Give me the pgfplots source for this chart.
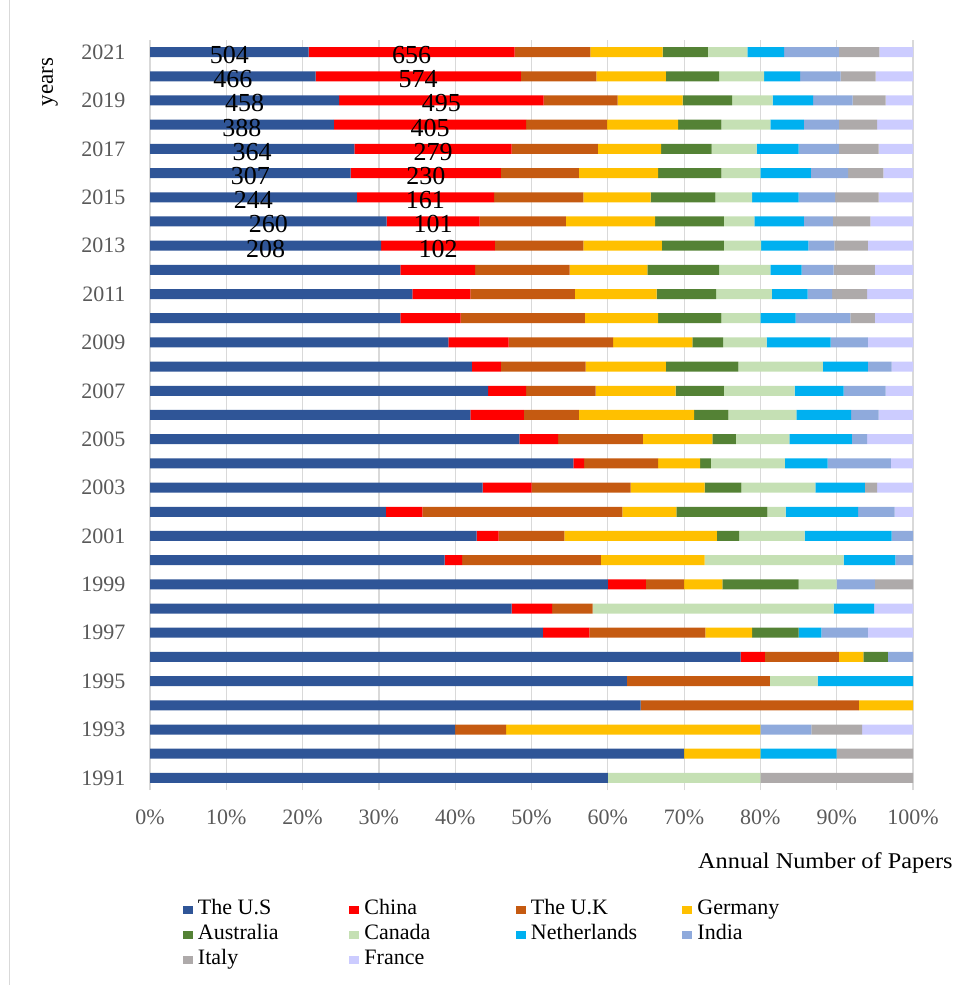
\documentclass[border=0pt]{standalone}
\usepackage{fontspec}
\setmainfont{Liberation Serif}
\newfontfamily\widefont[FakeStretch=1.08]{Liberation Serif}
\usepackage{pgfplots}
\usepackage{pgfplotstable}
\pgfplotsset{compat=1.18}
\definecolor{cUS}{HTML}{2F5597}
\definecolor{cCN}{HTML}{FF0000}
\definecolor{cUK}{HTML}{C55A11}
\definecolor{cDE}{HTML}{FFC000}
\definecolor{cAU}{HTML}{548235}
\definecolor{cCA}{HTML}{C5E0B4}
\definecolor{cNL}{HTML}{00B0F0}
\definecolor{cIN}{HTML}{8FAADC}
\definecolor{cIT}{HTML}{AEAAAA}
\definecolor{cFR}{HTML}{CCCCFF}
\definecolor{gridc}{HTML}{D9D9D9}
\definecolor{tickc}{HTML}{595959}

\pgfplotstableread{
year US CN UK DE AU CA NL IN IT FR
1991 60 0 0 0 0 20 0 0 20 0
1992 70 0 0 10 0 0 10 0 10 0
1993 40 0 6.67 33.33 0 0 0 6.67 6.67 6.66
1994 64.3 0 28.6 7.1 0 0 0 0 0 0
1995 62.5 0 18.75 0 0 6.25 12.5 0 0 0
1996 77.4 3.2 9.7 3.2 3.2 0 0 3.3 0 0
1997 51.5 6.1 15.2 6.1 6.1 0 3.0 6.1 0 5.9
1998 47.4 5.3 5.3 0 0 31.6 5.3 0 0 5.1
1999 60 5 5 5 10 5 0 5 5 0
2000 38.6 2.3 18.2 13.6 0 18.2 6.8 2.3 0 0
2001 42.8 2.9 8.6 20.0 2.9 8.6 11.4 2.8 0 0
2002 30.9 4.8 26.2 7.1 11.9 2.4 9.5 4.8 0 2.4
2003 43.6 6.4 13.0 9.7 4.8 9.7 6.5 0 1.6 4.7
2004 55.5 1.4 9.7 5.5 1.4 9.7 5.6 8.3 0 2.9
2005 48.4 5.1 11.1 9.1 3.1 7.0 8.2 2.0 0 6.0
2006 42.0 7.0 7.2 15.1 4.5 8.9 7.2 3.6 0 4.5
2007 44.3 5.0 9.1 10.5 6.3 9.3 6.4 5.5 0 3.6
2008 42.2 3.8 11.1 10.5 9.5 11.1 5.9 3.1 0 2.8
2009 39.1 7.9 13.7 10.4 4.0 5.7 8.4 4.9 0 5.9
2010 32.8 7.9 16.3 9.6 8.3 5.1 4.6 7.2 3.2 5.0
2011 34.4 7.6 13.7 10.7 7.8 7.3 4.7 3.2 4.6 6.0
2012 32.8 9.8 12.4 10.2 9.4 6.7 4.1 4.2 5.4 5.0
2013 30.3 14.9 11.6 10.3 8.1 4.9 6.2 3.4 4.4 5.9
2014 31.0 12.2 11.3 11.7 9.0 4.0 6.5 3.8 4.9 5.6
2015 27.1 18.0 11.7 8.8 8.5 4.8 6.1 4.8 5.7 4.5
2016 26.3 19.7 10.2 10.4 8.3 5.1 6.6 4.9 4.6 3.9
2017 26.8 20.6 11.3 8.3 6.6 5.9 5.5 5.3 5.2 4.5
2018 24.1 25.2 10.6 9.3 5.7 6.4 4.4 4.6 5.0 4.7
2019 24.8 26.8 9.7 8.5 6.5 5.3 5.3 5.2 4.3 3.6
2020 21.7 26.9 9.9 9.1 7.0 5.9 4.7 5.3 4.6 4.9
2021 20.8 27.0 9.9 9.5 5.9 5.2 4.8 7.2 5.3 4.4
}\datatable

\pgfplotstableread{
x y lab
10.4 2021 504
34.3 2021 656
10.85 2020 466
35.15 2020 574
12.4 2019 458
38.2 2019 495
12.05 2018 388
36.7 2018 405
13.4 2017 364
37.1 2017 279
13.15 2016 307
36.15 2016 230
13.55 2015 244
36.1 2015 161
15.5 2014 260
37.1 2014 101
15.15 2013 208
37.75 2013 102
}\labtable

\newcommand\legtxt[1]{\makebox[151.5pt][l]{#1}}

\begin{document}
\begin{tikzpicture}
\path[use as bounding box] (0,0) rectangle (958pt,985pt);
\draw[gridc, line width=1pt] (9.5pt,0pt) -- (9.5pt,985pt);
\begin{axis}[
  at={(150pt,195pt)}, anchor=south west,
  scale only axis, width=763pt, height=750pt,
  xbar stacked, bar width=10pt,
  xmin=0, xmax=100, ymin=1990.5, ymax=2021.5,
  xtick={0,10,20,30,40,50,60,70,80,90,100},
  xticklabels={0\%,10\%,20\%,30\%,40\%,50\%,60\%,70\%,80\%,90\%,100\%},
  ytick={1991,1993,1995,1997,1999,2001,2003,2005,2007,2009,2011,2013,2015,2017,2019,2021},
  yticklabels={1991,1993,1995,1997,1999,2001,2003,2005,2007,2009,2011,2013,2015,2017,2019,2021},
  /pgf/number format/assume math mode=true,
  axis line style={draw=none},
  major tick length=0pt,
  xmajorgrids, ymajorgrids=false,
  grid style={color=gridc, line width=1.2pt},
  tick label style={font=\fontsize{22}{26}\selectfont, text=tickc},
  xticklabel style={anchor=base, yshift=-34pt},
  yticklabel style={anchor=east, xshift=-21pt},
  xlabel={Annual Number of Papers},
  xlabel style={at={(axis description cs:0.7182,-0.10533)}, anchor=base west, inner sep=0pt, font=\widefont\fontsize{22.5}{26}\selectfont, text=black},
  ylabel={years},
  ylabel style={at={(axis description cs:-0.131,0.944)}, anchor=center, rotate=0, inner sep=0pt, font=\fontsize{23}{26}\selectfont, text=black},
  legend columns=4,
  legend cell align=left,
  legend style={at={(axis description cs:0.04325,-0.14)}, anchor=north west, draw=none, fill=none, inner sep=0pt, outer sep=0pt, row sep=0pt, column sep=0pt, font=\fontsize{22}{26}\selectfont, nodes={inner sep=0pt, anchor=base west, text height=19pt, text depth=6pt}},
  legend image code/.code={\fill[#1] (0pt,0pt) rectangle (10pt,8pt); \path (15pt,0pt);},
]
\addplot[fill=cUS, draw=none] table[x=US, y=year] {\datatable};
\addlegendentry{\legtxt{The U.S}}
\addplot[fill=cCN, draw=none] table[x=CN, y=year] {\datatable};
\addlegendentry{\legtxt{China}}
\addplot[fill=cUK, draw=none] table[x=UK, y=year] {\datatable};
\addlegendentry{\legtxt{The U.K}}
\addplot[fill=cDE, draw=none] table[x=DE, y=year] {\datatable};
\addlegendentry{\legtxt{Germany}}
\addplot[fill=cAU, draw=none] table[x=AU, y=year] {\datatable};
\addlegendentry{\legtxt{Australia}}
\addplot[fill=cCA, draw=none] table[x=CA, y=year] {\datatable};
\addlegendentry{\legtxt{Canada}}
\addplot[fill=cNL, draw=none] table[x=NL, y=year] {\datatable};
\addlegendentry{\legtxt{Netherlands}}
\addplot[fill=cIN, draw=none] table[x=IN, y=year] {\datatable};
\addlegendentry{\legtxt{India}}
\addplot[fill=cIT, draw=none] table[x=IT, y=year] {\datatable};
\addlegendentry{\legtxt{Italy}}
\addplot[fill=cFR, draw=none] table[x=FR, y=year] {\datatable};
\addlegendentry{\legtxt{France}}
\end{axis}
\begin{axis}[
  at={(150pt,195pt)}, anchor=south west,
  scale only axis, width=763pt, height=750pt,
  xmin=0, xmax=100, ymin=1990.5, ymax=2021.5,
  hide axis, clip=false,
]
\addplot[draw=none, mark=none, nodes near coords, point meta=explicit symbolic,
  every node near coord/.append style={anchor=center, yshift=-3pt, font=\fontsize{26}{28}\selectfont, text=black}]
  table[x=x, y=y, meta=lab] {\labtable};
\end{axis}
\end{tikzpicture}
\end{document}
